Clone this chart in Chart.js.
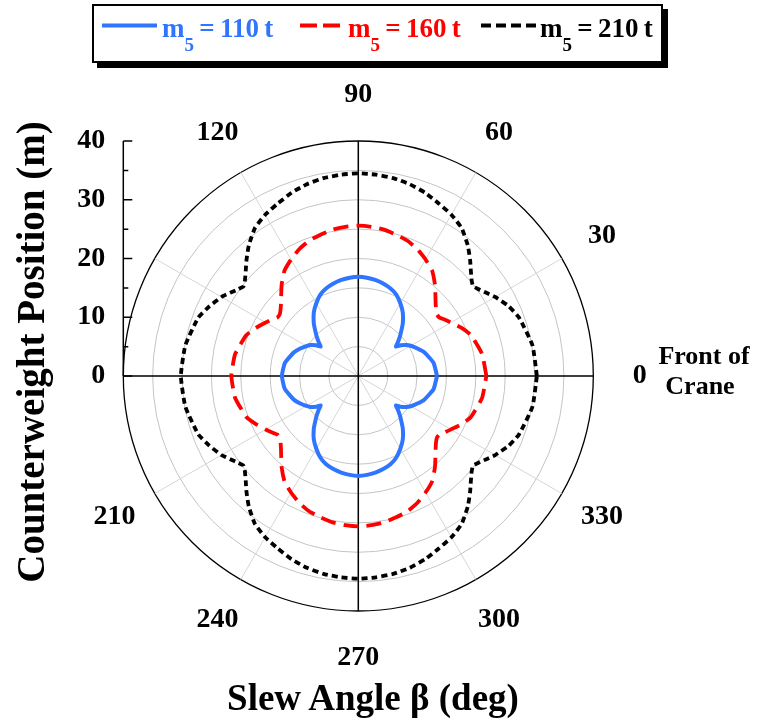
<!DOCTYPE html>
<html>
<head>
<meta charset="utf-8">
<script src="https://cdn.jsdelivr.net/npm/chart.js@4.4.1/dist/chart.umd.min.js"></script>
<style>
  body { margin: 0; background: #fff; }
  #wrap { position: relative; width: 758px; height: 721px; font-family: "Liberation Serif", "Times New Roman", serif; font-weight: bold; }
  #chart { position: absolute; left: 0; top: 0; }
  #legend { position: absolute; left: 92px; top: 4px; width: 567px; height: 55px; border: 2px solid #000; box-shadow: 5px 5px 0 #000; background: #fff; }
  .sample { position: absolute; }
  .ltext { position: absolute; top: 15px; font-size: 27px; line-height: 26px; white-space: nowrap; word-spacing: -1.5px; }
  .ltext sub { font-size: 19px; vertical-align: -14px; line-height: 0; }
  #ytitle { position: absolute; left: -219px; top: 332px; width: 500px; height: 40px; line-height: 40px; text-align: center; font-size: 39px; transform: rotate(-90deg); white-space: nowrap; }
  #xtitle { position: absolute; left: 173px; top: 678px; width: 400px; height: 40px; line-height: 40px; text-align: center; font-size: 37px; white-space: nowrap; }
</style>
</head>
<body>
<div id="wrap">
  <canvas id="chart" width="758" height="721"></canvas>
  <div id="legend"></div>
  <svg class="sample" style="left:102px;top:23px" width="55" height="5"><line x1="0" y1="2.5" x2="55" y2="2.5" stroke="#2F75FF" stroke-width="4"/></svg>
  <div class="ltext" style="left:162px;color:#2F75FF">m<sub>5</sub> = 110 t</div>
  <svg class="sample" style="left:300px;top:23px" width="40" height="5"><line x1="0" y1="2.5" x2="40" y2="2.5" stroke="#FF0000" stroke-width="4" stroke-dasharray="17 6"/></svg>
  <div class="ltext" style="left:348px;color:#FF0000">m<sub>5</sub> = 160 t</div>
  <svg class="sample" style="left:481px;top:23px" width="56" height="5"><line x1="0" y1="2.5" x2="56" y2="2.5" stroke="#000" stroke-width="4" stroke-dasharray="10 5"/></svg>
  <div class="ltext" style="left:540px;color:#000">m<sub>5</sub> = 210 t</div>
  <div id="ytitle">Counterweight Position (m)</div>
  <div id="xtitle">Slew Angle β (deg)</div>
</div>
<script>
// slew angle (deg) of each point, shared by all three curves
const slewAngles = [
  0, 10, 20, 25, 30, 33, 36, 38, 40, 43, 46, 50, 55, 60, 65, 70, 75, 80, 85, 90,
  95, 100, 105, 110, 115, 120, 125, 130, 134, 137, 140, 142, 144, 147, 150, 155, 160, 170, 180,
  190, 200, 205, 210, 213, 216, 218, 220, 223, 226, 230, 235, 240, 245, 250, 255, 260, 265, 270,
  275, 280, 285, 290, 295, 300, 305, 310, 314, 317, 320, 322, 324, 327, 330, 335, 340, 350, 360
];

// counterweight position (m) at each angle
const m110 = [
  13.4, 13.0, 11.9, 11.1, 10.3, 9.7, 8.9, 8.1, 8.7, 9.6, 10.5, 11.8, 13.2, 14.3, 15.3, 15.9, 16.3, 16.6, 16.8, 16.9,
  16.8, 16.6, 16.3, 15.9, 15.3, 14.3, 13.2, 11.8, 10.5, 9.6, 8.7, 8.1, 8.9, 9.7, 10.2, 11.0, 11.7, 12.7, 13.0,
  12.7, 11.7, 11.0, 10.2, 9.7, 8.9, 8.1, 8.7, 9.6, 10.5, 11.8, 13.2, 14.3, 15.3, 16.0, 16.4, 16.7, 16.9, 17.0,
  16.9, 16.7, 16.4, 16.0, 15.3, 14.3, 13.2, 11.8, 10.5, 9.6, 8.7, 8.1, 8.9, 9.7, 10.3, 11.1, 11.9, 13.0, 13.4
];
const m160 = [
  21.8, 21.4, 20.4, 19.4, 18.2, 17.6, 17.0, 17.0, 17.3, 18.0, 18.9, 20.3, 21.9, 22.9, 23.8, 24.5, 24.9, 25.3, 25.5, 25.6,
  25.5, 25.3, 24.9, 24.5, 23.8, 22.9, 21.9, 20.3, 18.9, 18.0, 17.3, 17.0, 17.0, 17.6, 18.2, 19.3, 20.3, 21.3, 21.6,
  21.3, 20.3, 19.3, 18.2, 17.6, 17.0, 17.0, 17.3, 18.0, 18.9, 20.3, 21.9, 22.9, 23.8, 24.5, 24.9, 25.3, 25.5, 25.6,
  25.5, 25.3, 24.9, 24.5, 23.8, 22.9, 21.9, 20.3, 18.9, 18.0, 17.3, 17.0, 17.0, 17.6, 18.2, 19.4, 20.4, 21.4, 21.8
];
const m210 = [
  30.4, 30.1, 29.1, 28.2, 26.9, 26.0, 25.2, 24.8, 25.2, 26.2, 27.4, 29.0, 30.7, 31.7, 32.4, 33.2, 33.8, 34.2, 34.4, 34.5,
  34.4, 34.2, 33.8, 33.2, 32.4, 31.7, 30.7, 29.0, 27.4, 26.2, 25.2, 24.8, 25.2, 26.0, 26.9, 28.0, 29.0, 29.9, 30.2,
  29.9, 29.0, 28.0, 26.9, 26.0, 25.2, 24.8, 25.2, 26.2, 27.4, 29.0, 30.7, 31.7, 32.4, 33.2, 33.8, 34.2, 34.4, 34.5,
  34.4, 34.2, 33.8, 33.2, 32.4, 31.7, 30.7, 29.0, 27.4, 26.2, 25.2, 24.8, 25.2, 26.0, 26.9, 28.2, 29.1, 30.1, 30.4
];

// axis ticks
const radialTicks = [0, 5, 10, 15, 20, 25, 30, 35, 40];
const radialLabels = [0, 10, 20, 30, 40];
const spokeAngles = [30, 60, 120, 150, 210, 240, 300, 330];
const angleLabels = [0, 30, 60, 90, 120, 210, 240, 270, 300, 330];
const rMax = 40;

function toXY(radii) {
  return slewAngles.map((a, i) => {
    const t = a * Math.PI / 180;
    return { x: radii[i] * Math.cos(t), y: radii[i] * Math.sin(t) };
  });
}

const FONT = '"Liberation Serif", "Times New Roman", serif';

// polar grid, y axis and angle labels
const polarGrid = {
  id: 'polarGrid',
  beforeDatasetsDraw(chart) {
    const ctx = chart.ctx;
    const xs = chart.scales.x, ys = chart.scales.y;
    const cx = xs.getPixelForValue(0), cy = ys.getPixelForValue(0);
    const k = xs.getPixelForValue(1) - cx;
    ctx.save();

    // rings
    radialTicks.forEach(r => {
      if (r === 0) return;
      ctx.beginPath();
      ctx.arc(cx, cy, r * k, 0, Math.PI * 2);
      if (r === rMax) { ctx.strokeStyle = '#000'; ctx.lineWidth = 1.3; }
      else { ctx.strokeStyle = '#c4c4c4'; ctx.lineWidth = 1; }
      ctx.stroke();
    });

    // spokes
    ctx.strokeStyle = '#d6d6d6';
    ctx.lineWidth = 1;
    spokeAngles.forEach(a => {
      const t = a * Math.PI / 180;
      ctx.beginPath();
      ctx.moveTo(cx, cy);
      ctx.lineTo(cx + rMax * k * Math.cos(t), cy - rMax * k * Math.sin(t));
      ctx.stroke();
    });

    // main cross
    ctx.strokeStyle = '#000';
    ctx.lineWidth = 1.5;
    ctx.beginPath();
    ctx.moveTo(cx - rMax * k, cy); ctx.lineTo(cx + rMax * k, cy);
    ctx.moveTo(cx, cy - rMax * k); ctx.lineTo(cx, cy + rMax * k);
    ctx.stroke();

    // left value axis with inward ticks
    const ax = xs.getPixelForValue(-rMax);
    ctx.beginPath();
    ctx.moveTo(ax, ys.getPixelForValue(0));
    ctx.lineTo(ax, ys.getPixelForValue(rMax));
    radialTicks.forEach(r => {
      const py = ys.getPixelForValue(r);
      const len = r % 10 === 0 ? 9 : 5;
      ctx.moveTo(ax, py); ctx.lineTo(ax + len, py);
    });
    ctx.stroke();

    ctx.fillStyle = '#000';
    ctx.font = 'bold 28px ' + FONT;
    ctx.textAlign = 'right';
    ctx.textBaseline = 'middle';
    radialLabels.forEach(r => ctx.fillText(String(r), ax - 18, ys.getPixelForValue(r)));

    // angle labels
    ctx.textAlign = 'center';
    const lr = 47.9 * k;
    angleLabels.forEach(a => {
      const t = a * Math.PI / 180;
      ctx.fillText(String(a), cx + lr * Math.cos(t), cy - lr * Math.sin(t));
    });

    ctx.font = 'bold 26px ' + FONT;
    ctx.fillText('Front of', 704, 357);
    ctx.fillText('Crane', 700, 387);
    ctx.restore();
  }
};

new Chart(document.getElementById('chart'), {
  type: 'scatter',
  data: {
    datasets: [
      { label: 'm5 = 110 t', data: toXY(m110), borderColor: '#2F75FF', borderWidth: 4 },
      { label: 'm5 = 160 t', data: toXY(m160), borderColor: '#FF0000', borderWidth: 3.8, borderDash: [15, 8] },
      { label: 'm5 = 210 t', data: toXY(m210), borderColor: '#000000', borderWidth: 3.8, borderDash: [6, 4] }
    ].map(d => Object.assign(d, { showLine: true, pointRadius: 0, fill: false, tension: 0.15 }))
  },
  options: {
    responsive: false,
    animation: false,
    layout: { padding: { left: 123.3, right: 164.7, top: 141, bottom: 110 } },
    scales: {
      x: { type: 'linear', min: -40, max: 40, display: false },
      y: { type: 'linear', min: -40, max: 40, display: false }
    },
    plugins: { legend: { display: false }, tooltip: { enabled: false } }
  },
  plugins: [polarGrid]
});
</script>
</body>
</html>
